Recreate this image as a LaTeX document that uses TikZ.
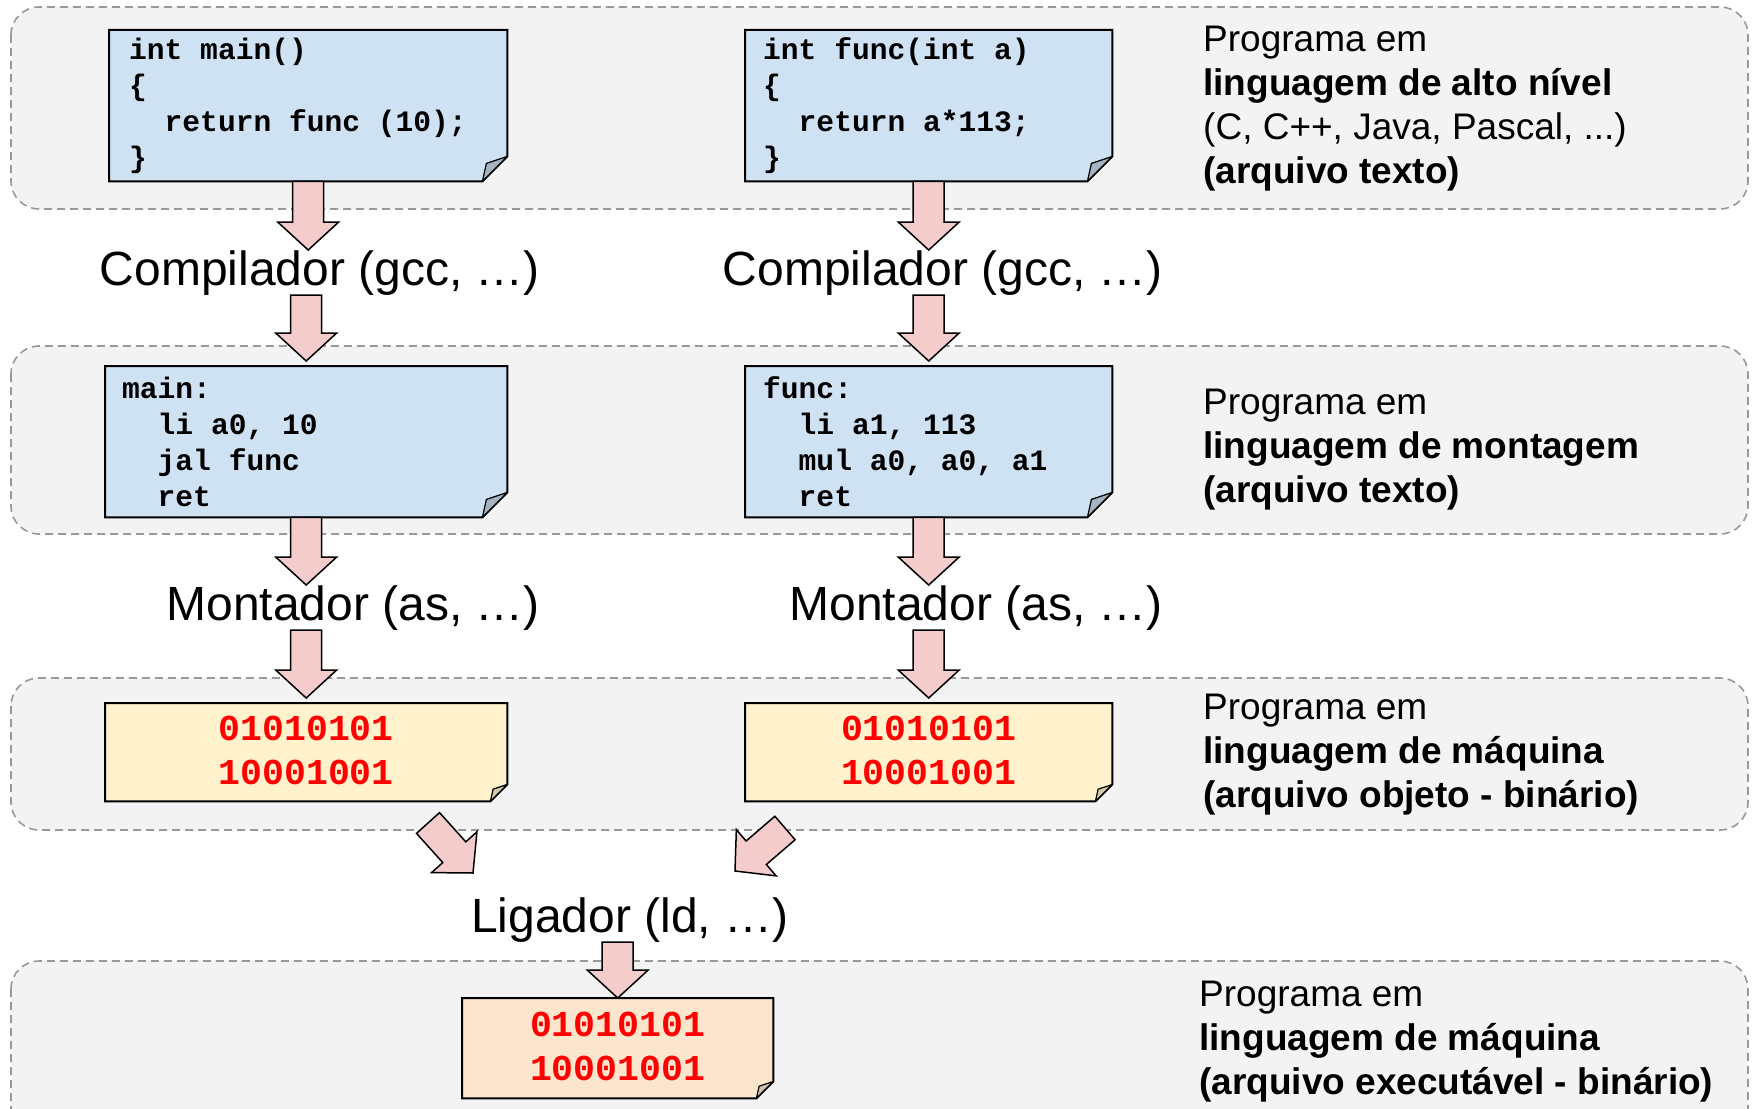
\documentclass[tikz,border=0pt]{standalone}
\usepackage{fontspec}
\setmainfont{Liberation Sans}
\setmonofont{Liberation Mono}
\usetikzlibrary{calc}
\pgfdeclarelayer{bandlayer}
\pgfdeclarelayer{notelayer}
\pgfsetlayers{bandlayer,notelayer,main}
\definecolor{bandfill}{HTML}{F3F3F3}
\definecolor{banddash}{HTML}{999999}
\definecolor{codeblue}{HTML}{CFE2F3}
\definecolor{codeflap}{HTML}{A4B4C4}
\definecolor{binyellow}{HTML}{FFF2CC}
\definecolor{yflap}{HTML}{D6CBA8}
\definecolor{binorange}{HTML}{FCE5CD}
\definecolor{oflap}{HTML}{D2C2B2}
\definecolor{arrowpink}{HTML}{F4CCCC}
\definecolor{binred}{HTML}{FF0000}
\newcommand\cdfont{\fontsize{29.6}{36}\selectfont\ttfamily\bfseries}
\newcommand\bnfont{\fontsize{36.5}{44}\selectfont\ttfamily\bfseries}
\newcommand\ms{\hphantom{x}}
\newcommand\drawnote[4]{%
  \begin{pgfonlayer}{notelayer}
    \draw[line width=2pt, fill=#3, line join=miter] (#1.north west) -- (#1.north east) -- ([yshift=#2pt]#1.south east) -- ([xshift=-#2pt]#1.south east) -- (#1.south west) -- cycle;
    \draw[line width=1.2pt, fill=#4, line join=round] ([yshift=#2pt]#1.south east) -- ([xshift={-0.84*#2pt}, yshift={0.72*#2pt}]#1.south east) -- ([xshift=-#2pt]#1.south east) -- cycle;
  \end{pgfonlayer}}
\def\fatgap{0pt}
\tikzset{
  fat gap/.store in=\fatgap,
  band/.style={fill=bandfill, draw=banddash, line width=1.6pt, dash pattern=on 8pt off 5pt, rounded corners=28pt},
  codebox/.style={anchor=north west, inner ysep=0pt, align=left, font=\cdfont, text=black, minimum height=151pt},
  binbox/.style={anchor=north west, inner ysep=0pt, inner xsep=10pt, align=center, font=\bnfont, text=binred},
  lbl/.style={inner sep=0pt, font=\fontsize{48}{56}\selectfont},
  bandtxt/.style={anchor=north west, inner sep=0pt, align=left, font=\fontsize{37}{44}\selectfont},
  fatarrow/.style={draw=black, line width=1.5pt, fill=arrowpink, line join=miter,
    to path={let \p1=(\tikztostart), \p2=($(\tikztotarget)!\fatgap!(\tikztostart)$), \p3=($(\p2)!28pt!(\p1)$) in
      ($(\p1)!15.5pt!90:(\p2)$) -- ($(\p3)!15.5pt!90:(\p2)$) -- ($(\p3)!30.5pt!90:(\p2)$) -- (\p2)
      -- ($(\p3)!30.5pt!-90:(\p2)$) -- ($(\p3)!15.5pt!-90:(\p2)$) -- ($(\p1)!15.5pt!-90:(\p2)$) -- cycle}}
}
\begin{document}
\frenchspacing
\begin{tikzpicture}[x=1pt, y=-1pt]
\useasboundingbox (0,0) rectangle (1752,1108);
% bands
\begin{pgfonlayer}{bandlayer}
  \draw[band] (11,7) rectangle (1748,209);
  \draw[band] (11,346) rectangle (1748,534);
  \draw[band] (11,678) rectangle (1748,830);
  \begin{scope}
    \clip (0,0) rectangle (1752,1108);
    \draw[band] (11,961) rectangle (1748,1150);
  \end{scope}
\end{pgfonlayer}
% code notes
\node[codebox, inner xsep=20pt, text width=358pt] (m1) at (109,30)
  {int\ms main()\\\{\\\ms\ms return\ms func\ms (10);\\\}};
\node[codebox, inner xsep=18pt, text width=331pt] (f1) at (745,30)
  {int\ms func(int\ms a)\\\{\\\ms\ms return\ms a*113;\\\}};
\node[codebox, inner xsep=17pt, text width=368pt] (m2) at (105,366)
  {main:\\\ms\ms li\ms a0,\ms 10\\\ms\ms jal\ms func\\\ms\ms ret};
\node[codebox, inner xsep=18pt, text width=331pt] (f2) at (745,366)
  {func:\\\ms\ms li\ms a1,\ms 113\\\ms\ms mul\ms a0,\ms a0,\ms a1\\\ms\ms ret};
\node[binbox, text width=382pt, minimum height=98pt] (b1) at (105,703) {01010101\\10001001\vspace*{4pt}};
\node[binbox, text width=347pt, minimum height=98pt] (b2) at (745,703) {01010101\\10001001\vspace*{4pt}};
\node[binbox, text width=291pt, minimum height=100pt] (b3) at (462,998) {01010101\\10001001\vspace*{4pt}};
\drawnote{m1}{25}{codeblue}{codeflap}
\drawnote{f1}{25}{codeblue}{codeflap}
\drawnote{m2}{25}{codeblue}{codeflap}
\drawnote{f2}{25}{codeblue}{codeflap}
\drawnote{b1}{17}{binyellow}{yflap}
\drawnote{b2}{17}{binyellow}{yflap}
\drawnote{b3}{17}{binorange}{oflap}
% tool labels
\node[lbl, anchor=base east] (comp1) at (540,285) {Compilador (gcc, …)};
\node[lbl, anchor=base east] (comp2) at (1163,285) {Compilador (gcc, …)};
\node[lbl, anchor=base east] (mont1) at (540,620) {Montador (as, …)};
\node[lbl, anchor=base east] (mont2) at (1163,620) {Montador (as, …)};
\node[lbl, anchor=base] (lig) at (630,932) {Ligador (ld, …)};
% band descriptions
\node[bandtxt] (t1) at (1203,26) {Programa em\\\textbf{linguagem de alto nível}\\(C, C++, Java, Pascal, ...)\\\textbf{(arquivo texto)}};
\node[bandtxt] (t2) at (1203,389) {Programa em\\\textbf{linguagem de montagem}\\\textbf{(arquivo texto)}};
\node[bandtxt] (t3) at (1203,694) {Programa em\\\textbf{linguagem de máquina}\\\textbf{(arquivo objeto - binário)}};
\node[bandtxt] (t4) at (1199,980.5) {Programa em\\\textbf{linguagem de máquina}\\\textbf{(arquivo executável - binário)}};
% arrows
\draw[fatarrow] (m1.south) to (m1.south |- comp1.north);
\draw[fatarrow, fat gap=5pt] (m2.north |- comp1.south) to (m2.north);
\draw[fatarrow] (m2.south) to (m2.south |- mont1.north);
\draw[fatarrow, fat gap=5pt] (b1.north |- mont1.south) to (b1.north);
\draw[fatarrow] (f1.south) to (f1.south |- comp2.north);
\draw[fatarrow, fat gap=5pt] (f2.north |- comp2.south) to (f2.north);
\draw[fatarrow] (f2.south) to (f2.south |- mont2.north);
\draw[fatarrow, fat gap=5pt] (b2.north |- mont2.south) to (b2.north);
\coordinate (d1s) at (428,823);
\coordinate (d1e) at (473,873);
\coordinate (d2s) at (785,828);
\coordinate (d2e) at (735,871);
\draw[fatarrow] (d1s) to (d1e);
\draw[fatarrow] (d2s) to (d2e);
\draw[fatarrow] (b3.north |- lig.south) to (b3.north);
\end{tikzpicture}
\end{document}
